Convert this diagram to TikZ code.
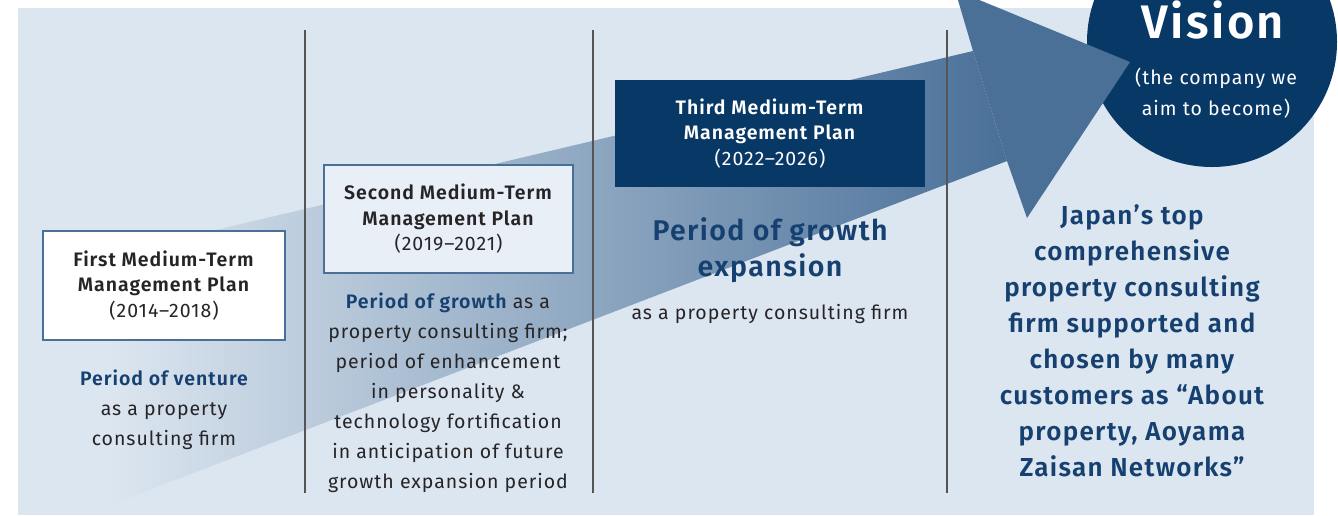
\documentclass[tikz,border=0pt]{standalone}
\usepackage{fontspec}
\setmainfont{Fira Sans}[LetterSpace=5, BoldFont={Fira Sans SemiBold}]
\usepackage{xcolor}
\usepackage{tikz}

\definecolor{panel}{RGB}{220,230,240}
\definecolor{arrowblue}{RGB}{74,112,152}
\definecolor{navy}{RGB}{8,56,102}
\definecolor{textnavy}{RGB}{22,64,112}
\definecolor{ink}{RGB}{38,36,38}
\definecolor{rulegray}{RGB}{85,85,85}
\definecolor{paleblue}{RGB}{233,239,246}

\tikzset{
  planbox/.style={draw=arrowblue, line width=1.1pt, inner sep=0pt, align=center,
    text=ink, font=\fontsize{19.5}{25.5}\selectfont},
  bodytext/.style={align=center, text=ink, font=\fontsize{19.5}{30}\selectfont},
  bigtext/.style={align=center, text=textnavy, font=\bfseries\fontsize{28.5}{36}\selectfont},
  separator/.style={draw=rulegray, line width=1.1pt}
}

\begin{document}
\begin{tikzpicture}[x=1pt, y=-1pt]
\useasboundingbox (0,0) rectangle (1338,515);
\clip (0,0) rectangle (1338,515);

% background panel
\fill[panel] (18,8) rectangle (1314,515);

% vision circle
\fill[navy] (1212,42) circle (125);

% arrow: faded shaft, solid head
\coordinate (shaftA) at (110,255);
\coordinate (shaftB) at (973,51);
\coordinate (shaftC) at (1007,161);
\coordinate (shaftD) at (110,505);
\coordinate (barbT) at (955,-10);
\coordinate (tip) at (1130,62);
\coordinate (barbB) at (1027,218);

\shade[left color=panel, right color=arrowblue] (shaftA) -- (shaftB) -- (shaftC) -- (shaftD) -- cycle;
\fill[arrowblue] (shaftB) -- (barbT) -- (tip) -- (barbB) -- (shaftC) -- cycle;

% column separators
\foreach \x in {305, 593, 947}
  \draw[separator] (\x,30) -- (\x,493);

% plan boxes
\node[planbox, fill=white, minimum width=242, minimum height=109] (plan1) at (164,285.5)
  {\textbf{First Medium-Term}\\\textbf{Management Plan}\\(2014--2018)};
\node[planbox, fill=paleblue, minimum width=249, minimum height=108] (plan2) at (448.5,219)
  {\textbf{Second Medium-Term}\\\textbf{Management Plan}\\(2019--2021)};
\node[planbox, draw=none, fill=navy, text=white, minimum width=310, minimum height=107] (plan3) at (770,133.5)
  {\textbf{Third Medium-Term}\\\textbf{Management Plan}\\(2022--2026)};

% period descriptions
\node[bodytext] (period1) at (164,410)
  {\textbf{\color{textnavy}Period of venture}\\as a property\\consulting firm};
\node[bodytext] (period2) at (448,393)
  {\textbf{\color{textnavy}Period of growth} as a\\property consulting firm;\\period of enhancement\\in personality \&\\technology fortification\\in anticipation of future\\growth expansion period};
\node[bigtext] (period3) at (770,250) {Period of growth\\expansion};
\node[bodytext] (period3b) at (770,314) {as a property consulting firm};

% vision
\node[text=white, font=\bfseries\fontsize{47}{47}\selectfont] (vision) at (1213,20) {Vision};
\node[text=white, align=center, font=\fontsize{19.5}{31}\selectfont] (visionsub) at (1216,93)
  {(the company we\\aim to become)};
\node[bigtext, font=\bfseries\fontsize{26}{36}\selectfont] (goal) at (1132,341)
  {Japan’s top\\comprehensive\\property consulting\\firm supported and\\chosen by many\\customers as “About\\property, Aoyama\\Zaisan Networks”};

\end{tikzpicture}
\end{document}
